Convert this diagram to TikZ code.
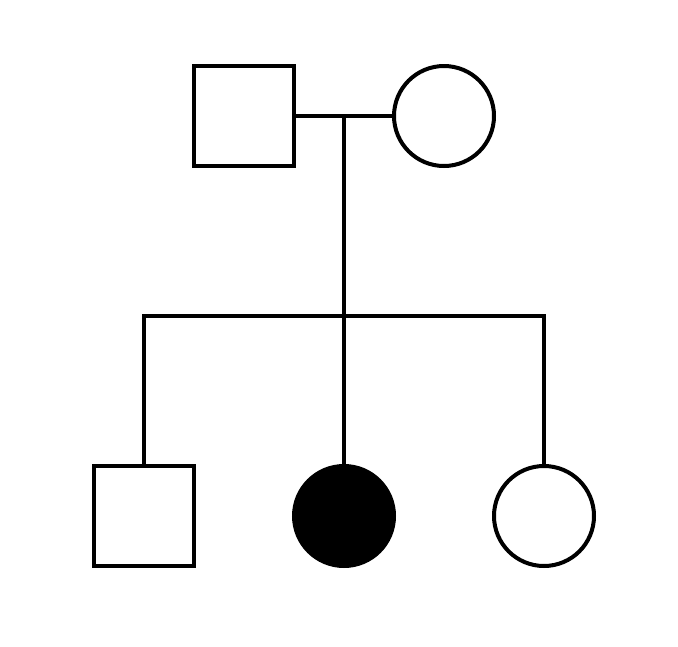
\documentclass[tikz,border=0pt]{standalone}
\begin{document}
\begin{tikzpicture}[x=1pt,y=-1pt,
  person/.style={draw=black,line width=4pt,minimum size=100pt,inner sep=0pt,fill=white},
  male/.style={person,rectangle},
  female/.style={person,circle},
  affected/.style={fill=black},
  link/.style={draw=black,line width=4pt}]
\useasboundingbox (0,0) rectangle (678,646);
\node[male] (father) at (244,116) {};
\node[female] (mother) at (444,116) {};
\coordinate (mid) at (344,116);
\coordinate (sib) at (344,316);
\coordinate (sibL) at (144,316);
\coordinate (sibR) at (544,316);
\node[male] (son) at (144,516) {};
\node[female,affected] (dau1) at (344,516) {};
\node[female] (dau2) at (544,516) {};
\draw[link] (father.east) -- (mother.west);
\draw[link] (mid) -- (sib);
\draw[link,line cap=rect] (sibL) -- (sibR);
\draw[link] (sibL) -- (son.north);
\draw[link] (sib) -- (dau1.north);
\draw[link] (sibR) -- (dau2.north);
\end{tikzpicture}
\end{document}
